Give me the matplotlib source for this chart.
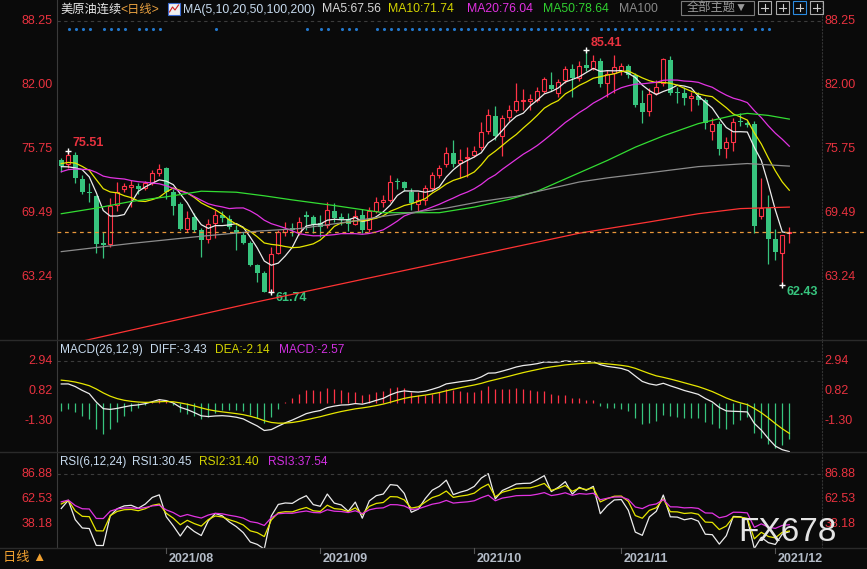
import numpy as np
import pandas as pd
import matplotlib
matplotlib.use('Agg')
import matplotlib.pyplot as plt
from matplotlib.lines import Line2D
from matplotlib.patches import Rectangle

plt.rcParams['font.family'] = ['Liberation Sans', 'Noto Sans CJK SC', 'DejaVu Sans']

W, H = 867, 569
BG = '#0a0a0a'
UP = '#ff3347'
DN = '#37c47e'
LBL = '#e8323f'

# ---- data ----
dates = pd.bdate_range('2021-07-12', '2021-12-03')

opens = [74.65, 74.30, 75.10, 72.80, 71.55, 71.10, 66.50, 66.40, 70.25, 71.80,
         72.00, 72.10, 71.90, 72.40, 73.35, 73.90, 71.55, 70.35, 67.90, 69.05,
         67.80, 66.90, 68.45, 69.25, 68.85, 67.80, 67.30, 66.50, 64.40, 63.65,
         61.80, 65.55, 67.65, 68.00, 67.65, 69.25, 69.10, 68.50, 68.30, 69.65,
         69.10, 68.85, 68.35, 69.25, 67.95, 69.70, 70.55, 70.70, 72.55, 72.45,
         71.55, 70.35, 70.75, 71.95, 73.20, 74.25, 75.30, 74.40, 74.80, 75.15,
         75.95, 77.50, 78.95, 76.95, 78.80, 79.55, 80.40, 80.45, 80.50, 81.40,
         82.00, 81.20, 82.45, 83.50, 82.65, 83.90, 83.65, 84.30, 82.20, 83.10,
         83.30, 83.80, 82.95, 80.20, 79.40, 81.20, 82.15, 84.40, 81.30, 81.20,
         80.70, 80.90, 80.50, 77.50, 78.20, 75.80, 76.40, 78.45, 78.30, 78.20,
         69.20, 70.00, 66.90, 65.60, 67.50]
highs = [74.85, 75.51, 75.40, 73.20, 72.40, 71.20, 67.60, 70.90, 72.50, 72.40,
         72.70, 72.40, 72.60, 73.70, 74.30, 74.00, 71.80, 70.50, 69.70, 69.50,
         68.00, 68.90, 69.80, 69.70, 69.30, 68.30, 67.60, 66.70, 64.50, 63.80,
         66.20, 67.85, 68.55, 68.50, 69.10, 69.65, 69.30, 69.30, 70.55, 70.40,
         69.50, 69.50, 69.75, 69.90, 70.10, 71.05, 71.20, 73.20, 72.90, 72.60,
         71.90, 71.50, 72.20, 73.50, 74.20, 75.90, 76.60, 75.70, 75.90, 76.00,
         78.40, 79.60, 79.90, 79.00, 80.00, 82.20, 81.60, 81.10, 81.80, 82.80,
         83.20, 82.60, 83.80, 84.00, 84.30, 85.41, 84.90, 84.60, 83.40, 84.90,
         84.10, 84.00, 83.10, 81.50, 81.65, 82.50, 84.60, 84.85, 81.80, 81.80,
         81.30, 81.30, 80.70, 78.70, 78.50, 76.90, 78.70, 79.20, 78.50, 78.50,
         72.90, 71.20, 67.90, 67.30, 68.10]
lows = [73.45, 73.90, 72.40, 71.30, 70.50, 65.60, 65.10, 66.20, 69.70, 71.50,
        70.10, 71.30, 71.70, 72.20, 73.10, 70.80, 69.30, 67.80, 67.60, 67.60,
        65.20, 66.50, 67.00, 68.60, 67.90, 65.90, 66.40, 64.30, 62.70, 61.80,
        61.74, 65.50, 67.20, 67.20, 67.30, 67.80, 67.50, 67.15, 68.00, 68.60,
        68.30, 67.70, 68.30, 67.50, 67.65, 69.45, 70.10, 70.50, 71.80, 71.60,
        69.80, 69.60, 70.30, 71.60, 72.90, 74.00, 74.00, 72.90, 73.00, 74.90,
        75.60, 77.20, 76.60, 75.00, 78.50, 79.30, 79.50, 79.50, 80.30, 81.20,
        81.40, 80.80, 82.20, 80.80, 82.40, 83.30, 83.40, 81.80, 80.80, 81.20,
        82.90, 82.70, 79.80, 78.30, 78.90, 81.00, 81.90, 81.00, 80.20, 80.00,
        79.40, 80.00, 77.70, 76.60, 75.10, 74.80, 75.50, 78.00, 77.90, 67.50,
        68.90, 64.50, 64.90, 62.43, 66.50]
closes = [74.09, 75.10, 72.90, 71.50, 71.40, 66.40, 66.35, 70.20, 71.55, 72.10,
          72.20, 71.85, 72.40, 73.35, 73.75, 71.55, 70.15, 67.90, 68.95, 67.80,
          66.85, 68.35, 69.25, 68.95, 68.15, 67.50, 66.55, 64.40, 63.65, 61.80,
          65.45, 67.60, 67.90, 67.85, 68.55, 69.10, 68.30, 68.15, 69.75, 69.00,
          68.85, 68.35, 69.20, 67.80, 69.70, 70.50, 70.75, 72.50, 72.45, 71.95,
          70.45, 70.75, 71.90, 73.15, 73.85, 75.30, 74.25, 74.65, 74.95, 75.55,
          77.40, 79.05, 76.95, 78.70, 79.50, 80.40, 80.55, 80.60, 81.40, 82.55,
          81.55, 82.30, 83.50, 82.65, 83.85, 83.65, 84.30, 82.05, 83.00, 83.75,
          83.80, 82.95, 80.00, 79.30, 81.10, 81.80, 84.50, 81.20, 81.15, 80.70,
          80.85, 80.50, 78.30, 78.20, 75.70, 76.40, 78.40, 78.35, 78.05, 68.20,
          70.00, 66.90, 65.70, 67.30, 67.65]

# closes just before the window, for the short averages
pre_closes = [71.0, 71.6, 72.1, 72.2, 71.6, 73.7, 73.1, 73.1, 73.3, 75.3,
              74.0, 73.5, 74.8, 75.3, 75.4, 75.2, 73.4, 72.4, 74.9]

# long averages read at a few candles
ma50_idx = [0, 5, 10, 15, 20, 25, 29, 33, 39, 46, 54, 59, 64, 68, 74, 78, 82, 86, 91, 96, 98, 101, 104]
ma50_val = [69.4, 69.95, 70.6, 71.05, 71.6, 71.5, 71.15, 70.75, 70.2, 69.5, 69.5, 70.05, 70.8,
            71.6, 73.4, 74.6, 75.9, 77.0, 78.2, 79.0, 79.2, 79.0, 78.64]
ma100_idx = [0, 10, 20, 28, 34, 41, 47, 55, 60, 65, 74, 78, 84, 91, 98, 104]
ma100_val = [65.7, 66.5, 67.2, 67.7, 67.95, 68.6, 69.25, 69.95, 70.6, 71.1, 72.5, 72.9, 73.4,
             74.0, 74.3, 74.05]
ma200_idx = [0, 28, 74, 84, 91, 97, 104]
ma200_val = [56.5, 60.8, 67.5, 68.6, 69.4, 69.9, 70.05]

# indicator state before the first candle (ema12, ema26, dea) and rsi averages
macd_seed = (73.75, 72.35, 1.66)
rsi_gain_seed = 0.62
rsi_abs_seed = 1.0

news_idx = [1, 2, 3, 4, 6, 7, 8, 9, 11, 12, 13, 14, 22, 35, 37, 38, 40, 41, 42,
            45, 46, 47, 48, 49, 50, 51, 52, 53, 54, 55, 56, 57, 58, 59, 60, 61, 62, 63,
            64, 65, 66, 67, 68, 69, 70, 71, 72, 73, 74, 75, 77, 78, 79, 80, 81, 82, 83,
            84, 85, 86, 87, 88, 89, 90, 92, 93, 94, 95, 96, 97, 99, 100, 101]

main_ticks = [88.25, 82.00, 75.75, 69.49, 63.24]
macd_ticks = [2.94, 0.82, -1.30]
rsi_ticks = [86.88, 62.53, 38.18]

# ---- indicators ----
n_pre = len(pre_closes)
c_all = pd.Series(pre_closes + closes)
ma5 = c_all.rolling(5).mean().to_numpy()[n_pre:]
ma10 = c_all.rolling(10).mean().to_numpy()[n_pre:]
ma20 = c_all.rolling(20).mean().to_numpy()[n_pre:]

e12, e26, dea = macd_seed
diff_l, dea_l = [], []
for c in closes:
    e12 = (2 * c + 11 * e12) / 13
    e26 = (2 * c + 25 * e26) / 27
    d = e12 - e26
    dea = (2 * d + 8 * dea) / 10
    diff_l.append(d)
    dea_l.append(dea)
diff_a = np.array(diff_l)
dea_a = np.array(dea_l)
hist = 2 * (diff_a - dea_a)


def rsi(n):
    g, a = rsi_gain_seed, rsi_abs_seed
    prev = pre_closes[-1]
    out = []
    for c in closes:
        d = c - prev
        g = (max(d, 0) + (n - 1) * g) / n
        a = (abs(d) + (n - 1) * a) / n
        out.append(100 * g / a)
        prev = c
    return np.array(out)


rsi1, rsi2, rsi3 = rsi(6), rsi(12), rsi(24)

# ---- figure ----
fig = plt.figure(figsize=(W / 100, H / 100), dpi=100, facecolor=BG)


def panel(top, bottom):
    a = fig.add_axes([57 / W, 1 - bottom / H, (822 - 57) / W, (bottom - top) / H])
    a.set_facecolor(BG)
    a.set_xticks([])
    a.set_yticks([])
    for s in ['top', 'bottom']:
        a.spines[s].set_visible(False)
    a.spines['left'].set_color('#3a3a3a')
    a.spines['right'].set_color('#333333')
    a.spines['right'].set_linestyle((0, (1, 2)))
    a.set_xlim(-0.61, 108.67)
    return a


def ftxt(x, y, s, **kw):
    kw.setdefault('va', 'center')
    kw.setdefault('fontsize', 9)
    fig.text(x / W, 1 - y / H, s, **kw)


def yticks(a, vals, fmt='%.2f'):
    for v in vals:
        a.text(-0.0055, v, fmt % v, transform=a.get_yaxis_transform(), ha='right',
               va='center', color=LBL, fontsize=9, clip_on=False)
        a.text(1.003, v, fmt % v, transform=a.get_yaxis_transform(), ha='left',
               va='center', color=LBL, fontsize=9, clip_on=False)


ax = panel(0, 340)
axm = panel(340, 452)
axr = panel(452, 548)
ax.set_ylim(57.07, 90.27)
axm.set_ylim(-3.45, 4.41)
axr.set_ylim(14.55, 108.8)

for yy in [340, 452, 548]:
    fig.add_artist(Line2D([0, 1], [1 - yy / H] * 2, color='#2a2a2a', lw=1))

x = np.arange(len(closes))
o, h, l, c = map(np.array, (opens, highs, lows, closes))
up = c >= o

# candles
ax.vlines(x, l, h, colors=np.where(up, UP, DN), lw=0.9, zorder=2)
lo = np.minimum(o, c)
bh = np.maximum(np.abs(c - o), 0.08)
ax.bar(x[up], bh[up], bottom=lo[up], width=0.58, facecolor=BG, edgecolor=UP, lw=0.8, zorder=3)
ax.bar(x[~up], bh[~up], bottom=lo[~up], width=0.7, color=DN, lw=0, zorder=3)

# moving averages
ax.plot(x, ma5, color='#ececec', lw=0.9, zorder=4)
ax.plot(x, ma10, color='#e6e600', lw=0.9, zorder=4)
ax.plot(x, ma20, color='#e233e2', lw=0.9, zorder=4)
ax.plot(ma50_idx, ma50_val, color='#33dd33', lw=0.9, zorder=4)
ax.plot(ma100_idx, ma100_val, color='#8c8c8c', lw=0.9, zorder=4)
ax.plot(ma200_idx, ma200_val, color='#ff3333', lw=0.9, zorder=4)

ax.axhline(88.25, color='#3c3c3c', ls=(0, (3, 3)), lw=0.8)
ax.axhline(closes[-1], xmax=(W - 57) / 765, color='#e8973a', ls=(0, (3, 3)), lw=0.9,
           clip_on=False, zorder=5)

ax.scatter(np.array(news_idx) + 0.15, [1 - 29 / 340] * len(news_idx), s=5, color='#2277cc',
           transform=ax.get_xaxis_transform(), zorder=5, lw=0)

# extremes
for i, val, col, dy in [(1, highs[1], LBL, 6), (75, highs[75], LBL, 5),
                        (30, lows[30], DN, -4.5), (103, lows[103], DN, -5)]:
    ax.plot(i, val, marker='+', color='white', ms=5, mew=1, zorder=6)
    ax.annotate('%.2f' % val, (i, val), xytext=(3, dy), textcoords='offset points',
                color=col, fontsize=9, fontweight='bold', ha='left', va='center')

yticks(ax, main_ticks)

# title row
ftxt(60, 9.5, '美原油连续', color='#e6e6e6', fontsize=8.8)
ftxt(120.5, 9.5, '<日线>', color='#e8a040', fontsize=8.8)
fig.add_artist(Rectangle((168 / W, 1 - 15 / H), 12 / W, 12 / H, transform=fig.transFigure,
                         facecolor='#f0f0f0', edgecolor='#3a6ad0', lw=0.8))
fig.add_artist(Line2D(np.array([169.5, 172.5, 175, 178.5]) / W,
                      1 - np.array([12, 7, 10, 5]) / H, color='#d02020', lw=0.8))
ftxt(183.3, 9.5, 'MA(5,10,20,50,100,200)', color='#c8dcf0', fontsize=8.8)
ftxt(321.7, 9.5, 'MA5:67.56', color='#d8d8d8', fontsize=8.8)
ftxt(388.3, 9.5, 'MA10:71.74', color='#d4d400', fontsize=8.8)
ftxt(466.7, 9.5, 'MA20:76.04', color='#e030e0', fontsize=8.8)
ftxt(543.3, 9.5, 'MA50:78.64', color='#30d030', fontsize=8.8)
ftxt(619.3, 9.5, 'MA100', color='#8a8a8a', fontsize=8.8)

fig.add_artist(Rectangle((681 / W, 1 - 15 / H), 73 / W, 14.5 / H, transform=fig.transFigure,
                         facecolor='none', edgecolor='#7a7a7a', lw=0.8))
ftxt(717.5, 8, '全部主题▼', color='#9a9a9a', fontsize=8.8, ha='center')
for bx, ec in [(758, '#aaaaaa'), (776, '#aaaaaa'), (793, '#2a8ae0'), (810, '#aaaaaa')]:
    fig.add_artist(Rectangle((bx / W, 1 - 14 / H), 13 / W, 13 / H, transform=fig.transFigure,
                             facecolor='none', edgecolor=ec, lw=0.8))
    fig.add_artist(Line2D([(bx + 3) / W, (bx + 10) / W], [1 - 7.5 / H] * 2,
                          color='#cccccc', lw=0.8))
    fig.add_artist(Line2D([(bx + 6.5) / W] * 2, [1 - 4 / H, 1 - 11 / H],
                          color='#cccccc', lw=0.8))

# MACD panel
axm.vlines(x, 0, hist, colors=np.where(hist >= 0, UP, DN), lw=0.9)
axm.plot(x, diff_a, color='#ececec', lw=0.9)
axm.plot(x, dea_a, color='#e6e600', lw=0.9)
axm.axhline(2.94, color='#3c3c3c', ls=(0, (3, 3)), lw=0.8)
yticks(axm, macd_ticks)
ftxt(60, 350, 'MACD(26,12,9)', color='#c8dcf0', fontsize=8.6)
ftxt(150, 350, 'DIFF:-3.43', color='#c8dcf0', fontsize=8.6)
ftxt(215, 350, 'DEA:-2.14', color='#d4d400', fontsize=8.6)
ftxt(279.3, 350, 'MACD:-2.57', color='#d030e0', fontsize=8.6)

# RSI panel
axr.plot(x, rsi1, color='#ececec', lw=0.9)
axr.plot(x, rsi2, color='#e6e600', lw=0.9)
axr.plot(x, rsi3, color='#e233e2', lw=0.9)
axr.axhline(86.88, color='#3c3c3c', ls=(0, (3, 3)), lw=0.8)
yticks(axr, rsi_ticks)
ftxt(60, 462, 'RSI(6,12,24)', color='#c8dcf0', fontsize=8.4)
ftxt(131.7, 462, 'RSI1:30.45', color='#c8dcf0', fontsize=8.6)
ftxt(199.3, 462, 'RSI2:31.40', color='#d4d400', fontsize=8.6)
ftxt(267.7, 462, 'RSI3:37.54', color='#d030e0', fontsize=8.6)

# month axis
month = dates.month
starts = [i for i in range(1, len(dates)) if month[i] != month[i - 1]]
for i in starts:
    xp = 61.3 + 7.0 * i
    fig.add_artist(Line2D([xp / W] * 2, [1 - 548 / H, 1 - 553 / H], color='#555555', lw=0.8))
    ftxt(xp + 2.5, 558.5, dates[i].strftime('%Y/%m'), color='#b4bcc8', fontweight='bold')
ftxt(3, 558.5, '日线 ▲', color='#f0a030', fontsize=9.5)

# watermark (sits over the 38.18 label, as in the original)
ftxt(738, 532.5, 'FX678', color='#e4e4e4', fontsize=24)

fig.savefig('out.png', dpi=100, facecolor=BG)
